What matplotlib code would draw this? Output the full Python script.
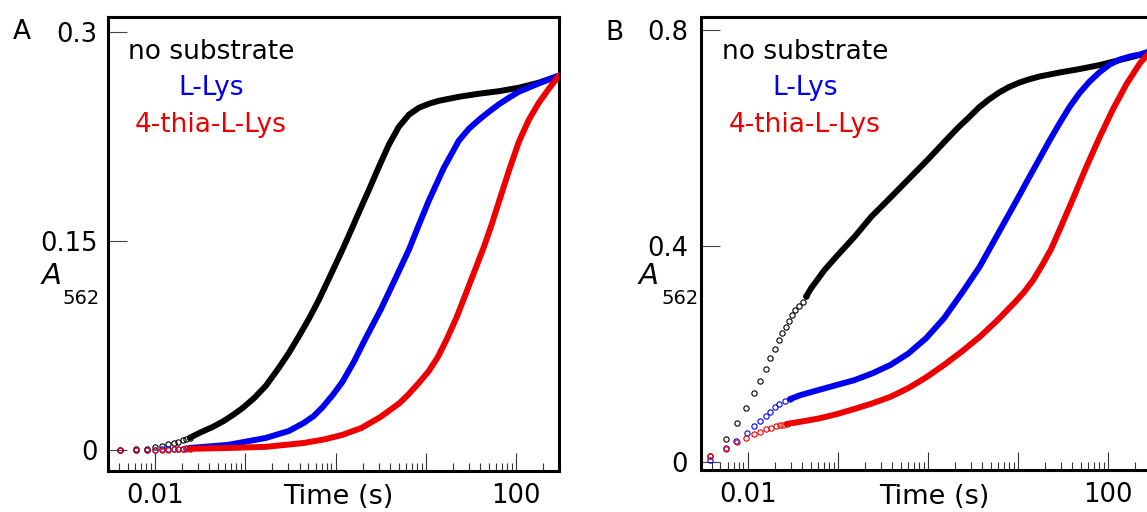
import numpy as np
import matplotlib
matplotlib.use("Agg")
import matplotlib.pyplot as plt
from matplotlib.ticker import FixedLocator, LogLocator, NullFormatter, FixedFormatter
from matplotlib.transforms import blended_transform_factory

# ---------------- data ----------------
# Panel A: early, sparse points (drawn as open circles)
A_early_t = [0.0041, 0.0062, 0.0082, 0.0100, 0.0121, 0.0141, 0.0162, 0.0182, 0.0203, 0.0223, 0.0244]
A_black_early = [0.0, 0.0005, 0.001, 0.002, 0.003, 0.004, 0.005, 0.006, 0.007, 0.008, 0.0088]
A_blue_early = [0.0, 0.0, 0.0002, 0.0003, 0.0004, 0.0005, 0.0006, 0.0008, 0.0010, 0.0012, 0.0014]
A_red_early = [0.0, 0.0, 0.0001, 0.0002, 0.0003, 0.0003, 0.0004, 0.0005, 0.0006, 0.0007, 0.0008]

# Panel A: dense part (drawn as thick line)
A_black_t = [0.0244, 0.032, 0.0427, 0.0579, 0.0748, 0.094, 0.1245, 0.1686, 0.2355, 0.304, 0.392, 0.506,
             0.653, 0.843, 1.19, 1.477, 1.81, 2.34, 3.02, 3.89, 5.02, 6.48, 8.36, 10.8, 13.9, 23.2,
             38.7, 64.3, 107, 178, 296]
A_black_y = [0.0088, 0.0126, 0.0162, 0.0208, 0.0255, 0.0302, 0.0370, 0.0459, 0.0589, 0.0696, 0.0815, 0.094,
             0.1077, 0.1228, 0.1436, 0.1572, 0.1704, 0.1866, 0.2032, 0.219, 0.2319, 0.2405, 0.2455, 0.2484,
             0.2505, 0.2534, 0.2556, 0.2574, 0.2599, 0.2635, 0.2685]
A_blue_t = [0.0244, 0.0642, 0.1686, 0.304, 0.446, 0.575, 0.723, 0.933, 1.19, 1.595, 2.11, 3.15, 4.42,
            6.48, 8.36, 10.8, 15.8, 23.2, 29.9, 38.7, 49.8, 64.3, 83.0, 107, 178, 296]
A_blue_y = [0.0014, 0.0036, 0.0086, 0.0136, 0.0194, 0.0244, 0.0309, 0.0395, 0.0488, 0.0632, 0.079, 0.1005,
            0.1206, 0.1436, 0.1615, 0.179, 0.2024, 0.222, 0.2304, 0.2369, 0.2426, 0.248, 0.2527, 0.257,
            0.263, 0.2685]
A_red_t = [0.0244, 0.0642, 0.1686, 0.446, 0.742, 1.19, 1.94, 3.15, 5.13, 6.48, 8.36, 10.8, 13.6, 17.1,
           22.0, 29.9, 43.5, 52.4, 64.3, 83.0, 107, 138, 178, 230, 296]
A_red_y = [0.0008, 0.0014, 0.0022, 0.005, 0.0075, 0.0108, 0.0158, 0.0237, 0.0337, 0.0402, 0.0481, 0.0567,
           0.0668, 0.0797, 0.0955, 0.1177, 0.145, 0.160, 0.178, 0.2003, 0.2211, 0.2369, 0.2491, 0.2592, 0.2685]

# Panel B: early, sparse points
B_black_early_t = [0.00386, 0.0057, 0.00766, 0.0097, 0.01167, 0.0137, 0.0161, 0.0179, 0.0200, 0.0221, 0.0242,
                   0.0265, 0.0288, 0.0313, 0.0340, 0.0372, 0.0407, 0.0447]
B_black_early = [0.010, 0.0426, 0.071, 0.100, 0.127, 0.149, 0.172, 0.1915, 0.209, 0.225, 0.239,
                 0.250, 0.261, 0.271, 0.280, 0.288, 0.296, 0.306]
B_blue_early_t = [0.00379, 0.00582, 0.00751, 0.0099, 0.01173, 0.01387, 0.0161, 0.0179, 0.0202, 0.0225, 0.0258, 0.0296]
B_blue_early = [0.003, 0.0248, 0.038, 0.0537, 0.066, 0.0754, 0.0846, 0.0926, 0.1007, 0.107, 0.112, 0.116]
B_red_early_t = [0.00379, 0.00582, 0.00766, 0.0097, 0.01167, 0.01387, 0.0161, 0.0181, 0.0206, 0.0230, 0.0250, 0.0271]
B_red_early = [0.0105, 0.0235, 0.036, 0.0445, 0.0507, 0.0556, 0.060, 0.063, 0.066, 0.0675, 0.0688, 0.0698]

# Panel B: dense part
B_black_t = [0.0447, 0.0506, 0.0714, 0.1005, 0.1545, 0.2366, 0.364, 1.02, 1.70, 2.2, 2.85, 3.69, 4.76, 6.17,
             7.97, 10.3, 13.3, 17.3, 28.9, 48.3, 81, 135, 226, 300]
B_black_y = [0.306, 0.321, 0.355, 0.383, 0.417, 0.454, 0.485, 0.561, 0.6004, 0.6198, 0.6374, 0.656, 0.6707, 0.6837,
             0.6939, 0.7019, 0.7081, 0.7133, 0.7207, 0.7272, 0.7346, 0.7439, 0.7532, 0.7606]
B_blue_t = [0.0296, 0.0389, 0.0616, 0.0972, 0.153, 0.242, 0.383, 0.604, 0.955, 1.51, 2.38, 3.76, 6.17, 9.87,
            13.3, 17.3, 22.3, 28.9, 37.4, 48.3, 62.5, 81, 104.5, 135, 175, 226, 300]
B_blue_y = [0.116, 0.1235, 0.1328, 0.142, 0.151, 0.1636, 0.179, 0.200, 0.2285, 0.2655, 0.312, 0.361, 0.4254, 0.4865,
            0.5263, 0.5606, 0.5939, 0.6263, 0.6569, 0.6828, 0.7041, 0.7217, 0.7356, 0.7448, 0.7504, 0.7541, 0.7606]
B_red_t = [0.0271, 0.0388, 0.0616, 0.0972, 0.153, 0.242, 0.383, 0.604, 0.955, 1.51, 2.38, 3.76, 5.93, 9.38,
           11.73, 14.8, 18.63, 23.4, 29.6, 39.0, 48.3, 57.4, 80.7, 113.7, 160.6, 226, 300]
B_red_y = [0.0698, 0.074, 0.080, 0.088, 0.0976, 0.108, 0.120, 0.136, 0.156, 0.179, 0.204, 0.231, 0.262, 0.2963,
           0.3143, 0.3365, 0.3643, 0.394, 0.4328, 0.479, 0.516, 0.5457, 0.601, 0.653, 0.6994, 0.738, 0.7606]

legend_labels = ["no substrate", "L-Lys", "4-thia-L-Lys"]
A_yticks = [0, 0.15, 0.3]
A_yticklabels = ["0", "0.15", "0.3"]
B_yticks = [0, 0.4, 0.8]
B_yticklabels = ["0", "0.4", "0.8"]
xticks = [0.01, 0.1, 1, 10, 100]
xticklabels = ["0.01", "", "", "", "100"]

# ---------------- styling ----------------
BLACK = "#000000"
BLUE = "#0000f0"
RED = "#ee0000"
colors = [BLACK, BLUE, RED]
FONT = "DejaVu Sans"
plt.rcParams["font.family"] = [FONT]

W, H = 1147, 512
fig = plt.figure(figsize=(W / 100, H / 100), dpi=100)


def px_axes(l, t, r, b):
    return fig.add_axes([l / W, 1 - b / H, (r - l) / W, (b - t) / H])


axA = px_axes(107.7, 16.5, 559.3, 470.7)
axB = px_axes(700.5, 17.3, 1151.0, 470.0)

LW = 4.3
MS = 3.8
MEW = 0.8


def draw(ax, early, dense):
    for (et, ey, c) in early:
        ax.plot(et, ey, "o", ms=MS, mfc="none", mec=c, mew=MEW, zorder=3)
    for (dt, dy, c) in dense:
        ax.plot(dt, dy, "-", lw=LW, color=c, solid_capstyle="round", solid_joinstyle="round", zorder=3)


draw(axA,
     [(A_early_t, A_black_early, BLACK), (A_early_t, A_blue_early, BLUE), (A_early_t, A_red_early, RED)],
     [(A_black_t, A_black_y, BLACK), (A_blue_t, A_blue_y, BLUE), (A_red_t, A_red_y, RED)])
draw(axB,
     [(B_black_early_t, B_black_early, BLACK), (B_blue_early_t, B_blue_early, BLUE), (B_red_early_t, B_red_early, RED)],
     [(B_black_t, B_black_y, BLACK), (B_blue_t, B_blue_y, BLUE), (B_red_t, B_red_y, RED)])

TICKFS = 18.5
for ax, yt, ytl, ylim, ypad, xlab in [(axA, A_yticks, A_yticklabels, (-0.0149, 0.311), 7.5, 1.08),
                                       (axB, B_yticks, B_yticklabels, (-0.0154, 0.823), 9, 1.17)]:
    ax.set_xscale("log")
    ax.set_xlim(0.003, 300)
    ax.set_ylim(*ylim)
    ax.xaxis.set_major_locator(FixedLocator(xticks))
    ax.xaxis.set_major_formatter(FixedFormatter(xticklabels))
    ax.xaxis.set_minor_locator(LogLocator(base=10, subs=np.arange(2, 10), numticks=30))
    ax.xaxis.set_minor_formatter(NullFormatter())
    ax.set_yticks(yt)
    ax.set_yticklabels(ytl)
    ax.tick_params(axis="x", which="major", direction="in", length=13, width=0.8, color="#333333",
                   labelsize=TICKFS, pad=9, top=False)
    ax.tick_params(axis="x", which="minor", direction="in", length=6, width=0.8, color="#333333", top=False)
    ax.tick_params(axis="y", which="major", direction="in", length=13.5, width=0.8, color="#444444",
                   labelsize=TICKFS, pad=ypad, right=False)
    ax.yaxis.set_minor_locator(FixedLocator([]))
    for s in ax.spines.values():
        s.set_linewidth(2.2)
        s.set_color("black")
    tr = blended_transform_factory(ax.transData, fig.transFigure)
    ax.text(xlab, (H - 503.5) / H, "Time (s)", transform=tr, ha="center", va="baseline", fontsize=19.5)

# panel letters
fig.text(22 / W, 1 - 32 / H, "A", ha="center", va="center", fontsize=19)
fig.text(614 / W, 1 - 33 / H, "B", ha="center", va="center", fontsize=19)

# y-axis labels A_562
for xa, xs in [(51, 81), (648, 680)]:
    fig.text(xa / W, 1 - 276 / H, "A", ha="center", va="center", fontsize=21, style="italic")
    fig.text(xs / W, 1 - 298 / H, "562", ha="center", va="center", fontsize=14)

# legend texts
for xc in (211, 805):
    for lab, c, yc in zip(legend_labels, colors, (52, 88, 125)):
        fig.text(xc / W, 1 - yc / H, lab, color=c, ha="center", va="center", fontsize=19)

fig.savefig("out.png", dpi=100)
